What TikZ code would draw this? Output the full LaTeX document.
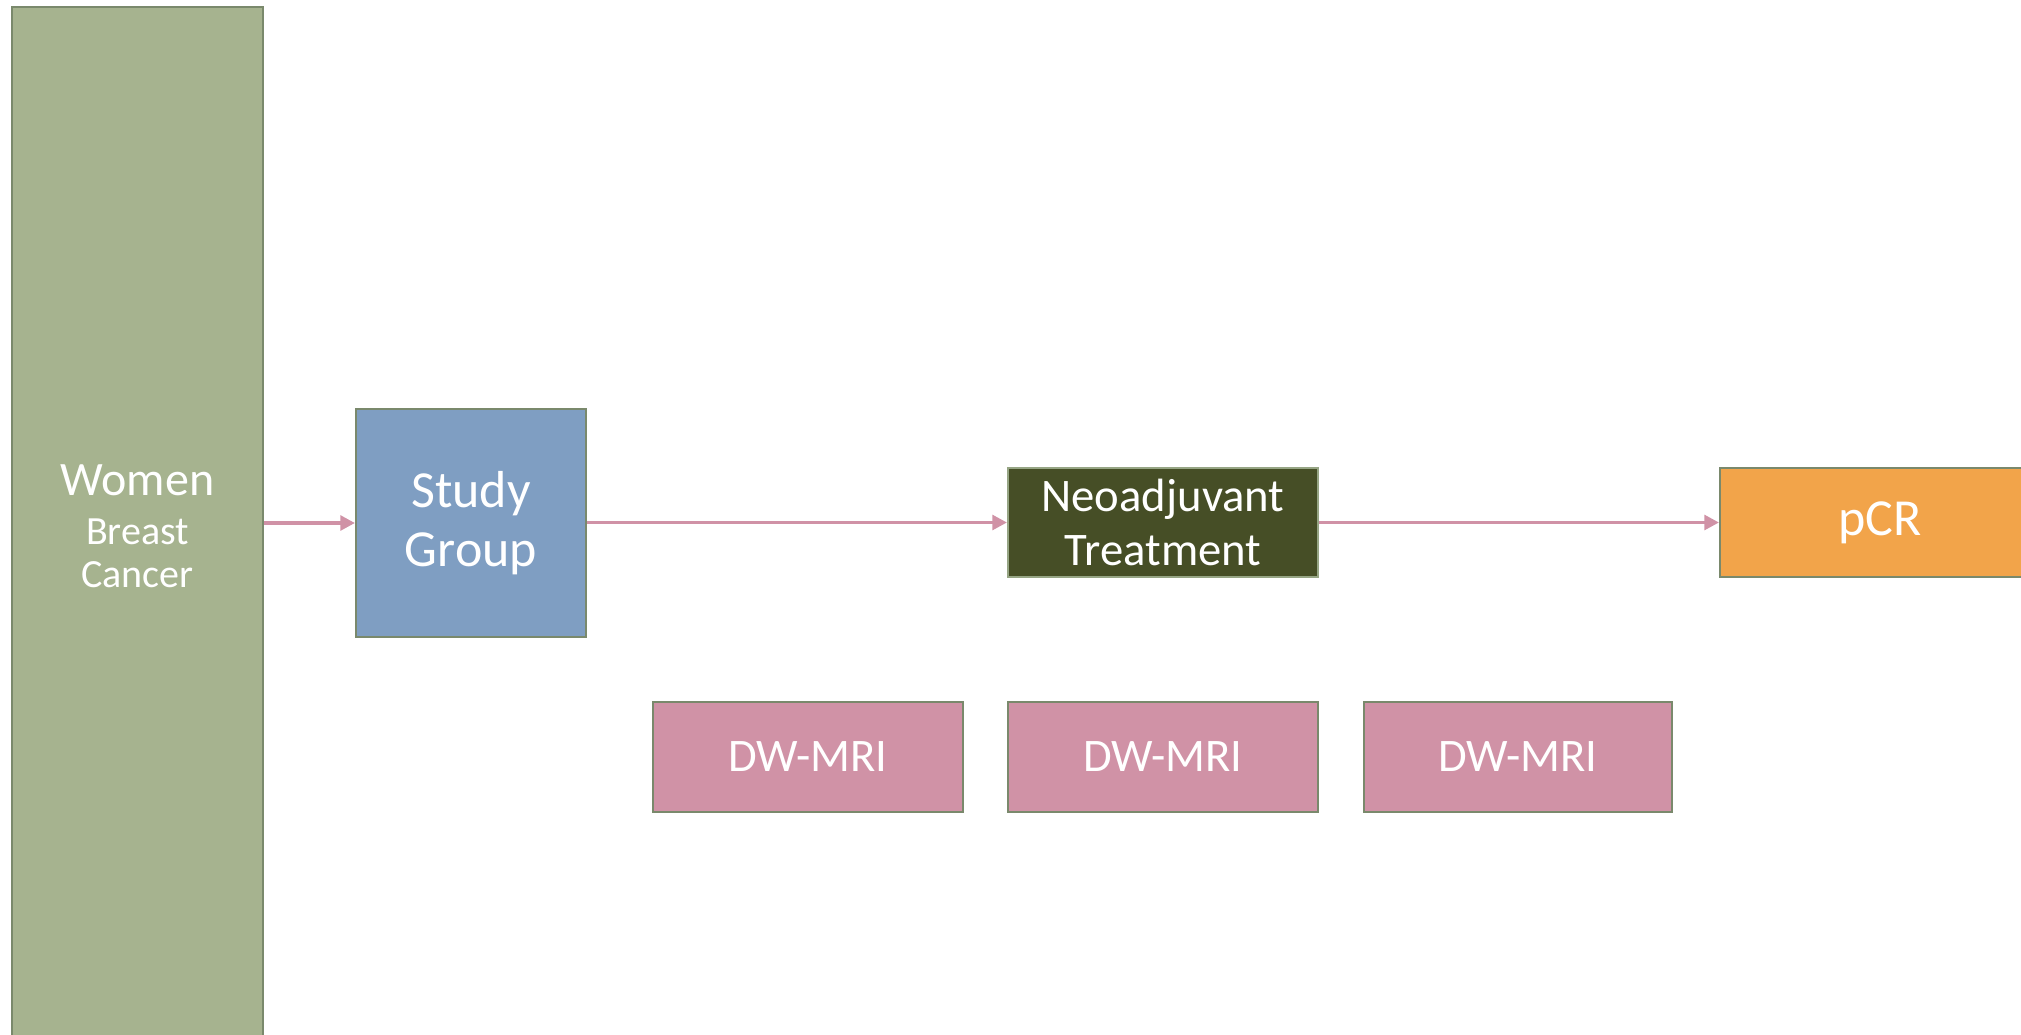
\documentclass[tikz,border=0pt]{standalone}
\usepackage{fontspec}
\setmainfont{Carlito}
\usetikzlibrary{arrows.meta}
\definecolor{sagegreen}{RGB}{166,179,143}
\definecolor{steelblue}{RGB}{127,158,194}
\definecolor{darkolive}{RGB}{70,78,38}
\definecolor{mriorange}{RGB}{242,164,74}
\definecolor{mripink}{RGB}{208,146,166}
\definecolor{boxedge}{RGB}{122,137,108}
\definecolor{paleedge}{RGB}{150,165,132}
\tikzset{
  box/.style={draw=boxedge, line width=1.5pt, text=white, align=center,
    inner sep=0pt, font=\fontsize{35}{40.5}\selectfont},
  flow/.style={draw=mripink, line width=2.7pt,
    -{Triangle[length=11pt,width=11pt]}},
}
\begin{document}
\begin{tikzpicture}[x=0.75pt,y=-0.75pt]
\useasboundingbox (0,0) rectangle (2021,1035);
% input population
\node[box, fill=sagegreen, minimum width=188.25pt, minimum height=778.5pt,
  font=\fontsize{30}{32}\selectfont]
  (women) at (137.5,526)
  {{\fontsize{36}{38}\selectfont Women}\\[5pt]Breast\\Cancer};
% study group
\node[box, fill=steelblue, minimum width=172.5pt, minimum height=171pt,
  font=\fontsize{39}{44}\selectfont] (study) at (471,523) {Study\\Group};
% treatment and outcome
\node[box, fill=darkolive, draw=paleedge, minimum width=232.5pt, minimum height=81.75pt]
  (neo) at (1163,522.5) {Neoadjuvant\\Treatment};
\node[box, fill=mriorange, minimum width=240pt, minimum height=81.75pt,
  font=\fontsize{39}{44}\selectfont] (pcr) at (1880,522.5) {pCR};
% imaging time points
\node[box, fill=mripink, minimum width=232.5pt, minimum height=82.5pt] (mri1) at (808,757) {DW-MRI};
\node[box, fill=mripink, minimum width=232.5pt, minimum height=82.5pt] (mri2) at (1163,757) {DW-MRI};
\node[box, fill=mripink, minimum width=231pt, minimum height=82.5pt] (mri3) at (1518,757) {DW-MRI};
% flow connectors
\draw[flow] (women.east |- study.west) -- (study.west);
\draw[flow] (study.east |- neo.west) -- (neo.west);
\draw[flow] (neo.east) -- (pcr.west);
\end{tikzpicture}
\end{document}
